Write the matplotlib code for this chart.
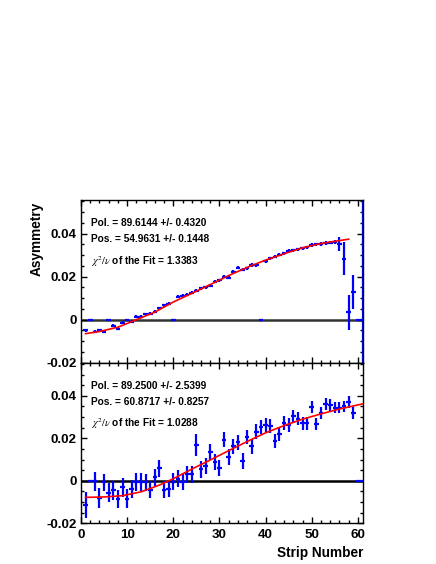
import matplotlib
matplotlib.use('Agg')
import matplotlib.pyplot as plt
import numpy as np
from matplotlib.ticker import MultipleLocator, FuncFormatter

plt.rcParams['font.family'] = 'sans-serif'
plt.rcParams['font.sans-serif'] = ['Liberation Sans']
plt.rcParams['axes.unicode_minus'] = False
plt.rcParams['mathtext.fontset'] = 'stix'

# ---- data ----
strips = np.arange(1, 62)

top_asym = [-0.0049, 0.0, -0.0057, -0.0049, -0.0057, 0.0, -0.0029, -0.0042, -0.0015, 0.0,
            -0.0009, 0.0013, 0.0014, 0.0025, 0.0028, 0.0037, 0.0053, 0.0068, 0.0074, 0.0,
            0.0107, 0.0110, 0.0116, 0.0125, 0.0135, 0.0146, 0.0150, 0.0158, 0.0176, 0.0182,
            0.0199, 0.0195, 0.0222, 0.0241, 0.0231, 0.0239, 0.0254, 0.0253, 0.0, 0.0272,
            0.0285, 0.0293, 0.0301, 0.0309, 0.0320, 0.0322, 0.0327, 0.0331, 0.0336, 0.0346,
            0.0350, 0.0352, 0.0356, 0.0358, 0.0361, 0.0352, 0.0284, 0.0034, 0.0129, 0.0,
            0.0]
top_err = [0.0007, 0.0, 0.0007, 0.0007, 0.0007, 0.0, 0.0007, 0.0007, 0.0007, 0.0,
           0.0007, 0.0007, 0.0007, 0.0007, 0.0007, 0.0007, 0.0007, 0.0007, 0.0007, 0.0,
           0.0007, 0.0007, 0.0007, 0.0007, 0.0007, 0.0007, 0.0007, 0.0007, 0.0007, 0.0007,
           0.0007, 0.0007, 0.0007, 0.0007, 0.0007, 0.0007, 0.0007, 0.0007, 0.0, 0.0007,
           0.0007, 0.0007, 0.0007, 0.0007, 0.0007, 0.0007, 0.0007, 0.0007, 0.0007, 0.0008,
           0.0008, 0.0008, 0.0008, 0.0008, 0.0008, 0.0031, 0.0078, 0.0081, 0.0078, 0.0,
           0.2]

bot_asym = [-0.0115, 0.0, -0.0003, -0.0082, -0.0006, -0.0056, -0.0045, -0.0084, -0.0031, -0.0084,
            -0.0038, -0.0004, -0.0004, -0.0008, -0.0043, 0.0016, 0.0058, -0.0041, -0.0038, -0.0005,
            0.0010, -0.0005, 0.0030, 0.0030, 0.0170, 0.0054, 0.0070, 0.0136, 0.0090, 0.0062,
            0.0194, 0.0112, 0.0163, 0.0181, 0.0093, 0.0205, 0.0162, 0.0232, 0.0255, 0.0262,
            0.0258, 0.0186, 0.0221, 0.0273, 0.0264, 0.0304, 0.0292, 0.0271, 0.0271, 0.0346,
            0.0269, 0.0318, 0.0362, 0.0356, 0.0345, 0.0345, 0.0350, 0.0370, 0.0320, 0.0,
            0.0]
bot_err = [0.0060, 0.0, 0.0043, 0.0047, 0.0040, 0.0044, 0.0044, 0.0043, 0.0045, 0.0045,
           0.0044, 0.0042, 0.0042, 0.0042, 0.0040, 0.0040, 0.0039, 0.0041, 0.0040, 0.0040,
           0.0040, 0.0040, 0.0040, 0.0040, 0.0052, 0.0040, 0.0038, 0.0038, 0.0038, 0.0038,
           0.0035, 0.0036, 0.0035, 0.0035, 0.0036, 0.0034, 0.0034, 0.0034, 0.0033, 0.0033,
           0.0033, 0.0033, 0.0032, 0.0032, 0.0032, 0.0031, 0.0030, 0.0030, 0.0030, 0.0029,
           0.0029, 0.0029, 0.0029, 0.0028, 0.0028, 0.0028, 0.0028, 0.0028, 0.0028, 0.0,
           0.0]

top_fit_x = [1, 4, 8, 12, 16, 20, 24, 28, 32, 36, 40, 44, 48, 52, 55, 58]
top_fit_y = [-0.0065, -0.0055, -0.0035, 0.0, 0.0035, 0.0082, 0.0122, 0.0163, 0.0205,
             0.0243, 0.0277, 0.0306, 0.0334, 0.0354, 0.0364, 0.0374]
bot_fit_x = [1, 5, 9, 13, 17, 20, 24, 28, 32, 36, 40, 44, 48, 52, 56, 61]
bot_fit_y = [-0.0078, -0.0076, -0.0070, -0.0052, -0.0020, 0.0010, 0.0055, 0.0098, 0.0142,
             0.0185, 0.0226, 0.0260, 0.0290, 0.0315, 0.0338, 0.0362]

top_text = ['Pol. = 89.6144 +/- 0.4320', 'Pos. = 54.9631 +/- 0.1448',
            r'$\chi^{2}/\nu$ of the Fit = 1.3383']
bot_text = ['Pol. = 89.2500 +/- 2.5399', 'Pos. = 60.8717 +/- 0.8257',
            r'$\chi^{2}/\nu$ of the Fit = 1.0288']


def fmt_y(v, pos):
    if abs(v) < 1e-9:
        return '0'
    return '%.2f' % v


def style_axes(ax, show_xlabels):
    ax.set_xlim(0, 61.1)
    ax.set_ylim(-0.02, 0.0556)
    ax.xaxis.set_major_locator(MultipleLocator(10))
    ax.xaxis.set_minor_locator(MultipleLocator(2))
    ax.yaxis.set_major_locator(MultipleLocator(0.02))
    ax.yaxis.set_minor_locator(MultipleLocator(0.005))
    ax.yaxis.set_major_formatter(FuncFormatter(fmt_y))
    ax.tick_params(which='both', direction='in', top=True, right=True, width=1)
    ax.tick_params(which='major', length=4.5)
    ax.tick_params(which='minor', length=2.3)
    ax.tick_params(labelsize=9.6, pad=3)
    ax.tick_params(axis='x', labelbottom=show_xlabels, pad=4)
    for lab in ax.get_xticklabels() + ax.get_yticklabels():
        lab.set_fontweight('bold')
    for sp in ax.spines.values():
        sp.set_linewidth(1.0)


def draw_panel(ax, asym, err, fit_x, fit_y, texts, zero_color, show_xlabels):
    ax.axhline(0, color=zero_color, linewidth=1.8, zorder=1)
    ax.errorbar(strips, asym, xerr=0.5, yerr=err, fmt='none', ecolor='#0000ff',
                elinewidth=1.6, capsize=0, zorder=2)
    ax.plot(fit_x, fit_y, color='#ff0000', linewidth=1.2, zorder=3)
    ypos = [0.857, 0.758, 0.621]
    for t, yy in zip(texts, ypos):
        ax.text(0.034, yy, t, transform=ax.transAxes, fontsize=7.3,
                fontweight='bold', ha='left', va='center')
    style_axes(ax, show_xlabels)


fig = plt.figure(figsize=(4.36, 5.64), dpi=100)
ax_top = fig.add_axes([0.1858, 0.3569, 0.6468, 0.2885])
ax_bot = fig.add_axes([0.1858, 0.0722, 0.6468, 0.2847])

draw_panel(ax_top, top_asym, top_err, top_fit_x, top_fit_y, top_text, '#333333', False)
draw_panel(ax_bot, bot_asym, bot_err, bot_fit_x, bot_fit_y, bot_text, '#000000', True)

fig.text(37 / 436, 1 - 202 / 564, 'Asymmetry', rotation=90, fontsize=9.8,
         fontweight='bold', ha='center', va='top')
fig.text(363 / 436, 1 - 553 / 564, 'Strip Number', fontsize=9.8,
         fontweight='bold', ha='right', va='center')

fig.savefig('out.png', dpi=100)
plt.close()
